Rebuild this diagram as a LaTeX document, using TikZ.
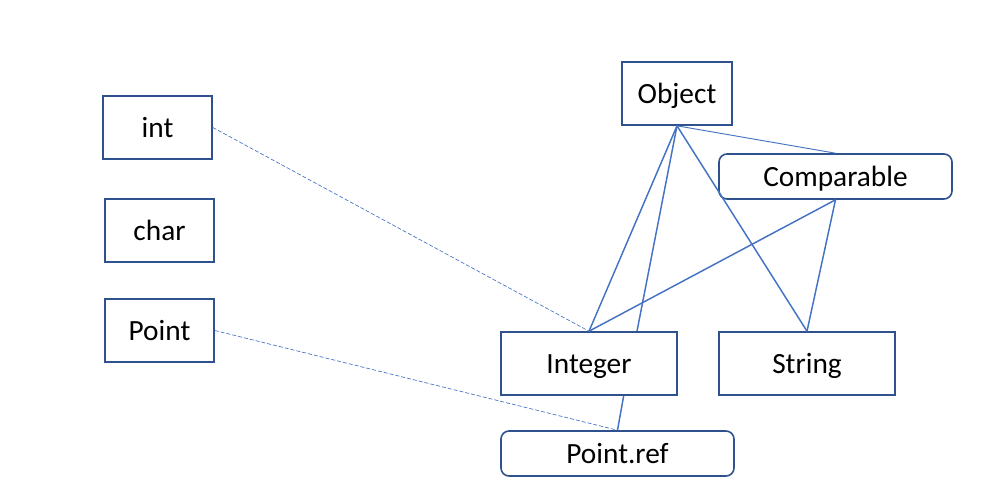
\documentclass[tikz,border=0pt]{standalone}
\usepackage{fontspec}
\setmainfont{Carlito}
\definecolor{boxblue}{HTML}{2F528F}
\definecolor{lineblue}{HTML}{4472C4}

\begin{document}
\begin{tikzpicture}[x=0.75pt,y=-0.75pt,
    typebox/.style={draw=boxblue,line width=1.2pt,fill=white,inner sep=0pt,
        font=\fontsize{22}{26}\selectfont,text height=15pt,text depth=0pt,
        minimum height=47.25pt},
    refbox/.style={typebox,rounded corners=6pt,minimum width=174.75pt,minimum height=33.75pt},
    link/.style={lineblue,line width=1.1pt},
    ref/.style={lineblue,line width=0.5pt,dash pattern=on 3pt off 1.5pt}]
    \useasboundingbox (0,0) rectangle (1004,501);
    %primitive types
    \node[typebox,minimum width=81.75pt] (int) at (157.5,127.5) {int};
    \node[typebox,minimum width=81.75pt] (char) at (159.5,230.5) {char};
    \node[typebox,minimum width=81.75pt] (point) at (159.5,330.5) {Point};

    %classes
    \node[typebox,minimum width=82.5pt] (object) at (677,93.5) {Object};
    \node[refbox] (comparable) at (835.5,176.5) {Comparable};
    \node[typebox,minimum width=132pt] (integer) at (589,363.5) {Integer};
    \node[typebox,minimum width=132pt] (string) at (807,363.5) {String};
    \node[refbox] (pointref) at (617.5,453.5) {Point.ref};

    %lines
    \draw[link] (object.south) -- (integer.north);
    \draw[link] (object.south) -- ([xshift=36pt]integer.north);
    \draw[link] (object.south) -- (string.north);
    \draw[link,line width=0.7pt] (object.south) -- (comparable.north);
    \draw[link] (comparable.south) -- (integer.north);
    \draw[link] (comparable.south) -- (string.north);
    \draw[link] ([xshift=26pt]integer.south) -- (pointref.north);

    %dashed
    \draw[ref] (int.east) -- (integer.north);
    \draw[ref] (point.east) -- (pointref.north);
\end{tikzpicture}
\end{document}
